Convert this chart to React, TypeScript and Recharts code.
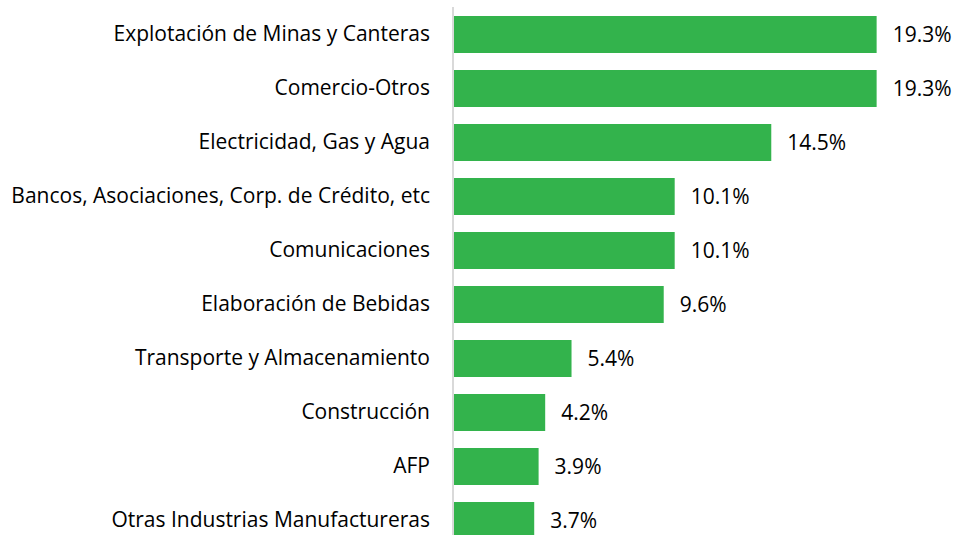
import { BarChart, Bar, XAxis, YAxis, LabelList } from "recharts";

const sectors = [
  "Explotación de Minas y Canteras",
  "Comercio-Otros",
  "Electricidad, Gas y Agua",
  "Bancos, Asociaciones, Corp. de Crédito, etc",
  "Comunicaciones",
  "Elaboración de Bebidas",
  "Transporte y Almacenamiento",
  "Construcción",
  "AFP",
  "Otras Industrias Manufactureras",
];

const shares = [19.3, 19.3, 14.5, 10.1, 10.1, 9.6, 5.4, 4.2, 3.9, 3.7];

const data = sectors.map((name, i) => ({ name, value: shares[i] }));

const FONT = "'Open Sans', 'Noto Sans', sans-serif";

export default function App() {
  return (
    <div style={{ position: "fixed", top: 0, left: 0, width: 955, height: 535, overflow: "hidden", background: "#fff" }}>
      <BarChart
        width={955}
        height={560}
        data={data}
        layout="vertical"
        margin={{ top: 7, right: 63, left: 0, bottom: 13 }}
      >
        <XAxis type="number" domain={[0, 20]} hide />
        <YAxis
          type="category"
          dataKey="name"
          width={453}
          tickLine={false}
          tickSize={0}
          tickMargin={23}
          axisLine={{ stroke: "#d9d9d9", strokeWidth: 2 }}
          tick={{ fontSize: 21, fill: "#000", fontFamily: FONT }}
          interval={0}
        />
        <Bar dataKey="value" fill="#33b34c" barSize={37} isAnimationActive={false}>
          <LabelList
            dataKey="value"
            position="right"
            offset={16}
            formatter={(v: number) => `${v.toFixed(1)}%`}
            style={{ fontSize: 21, fill: "#000", fontFamily: FONT }}
          />
        </Bar>
      </BarChart>
    </div>
  );
}
